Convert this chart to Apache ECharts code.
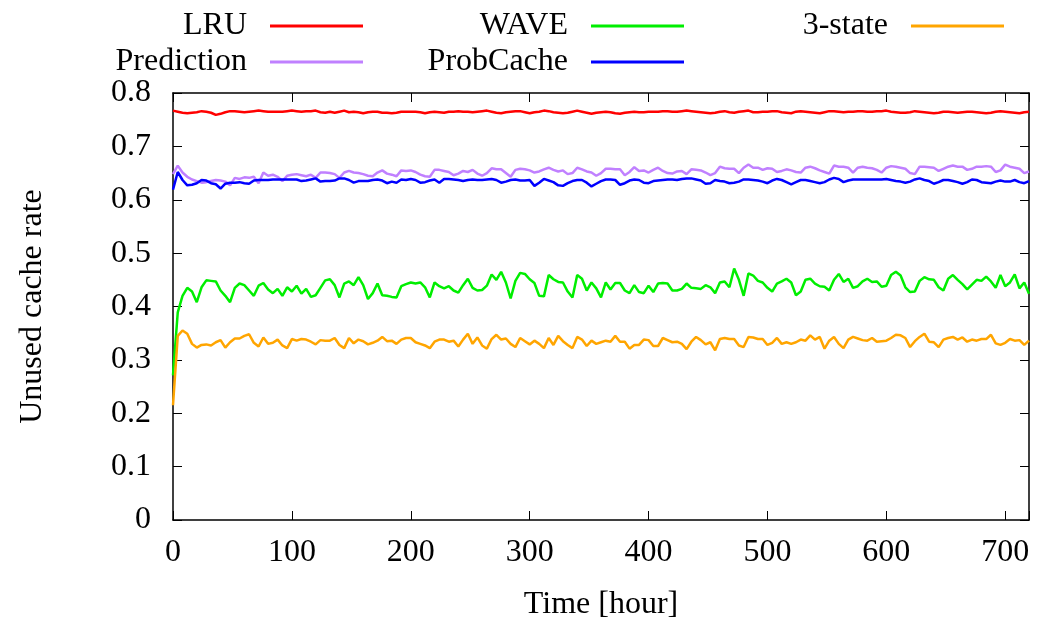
<!DOCTYPE html>
<html>
<head>
<meta charset="utf-8">
<script src="https://cdn.jsdelivr.net/npm/echarts@6/dist/echarts.min.js"></script>
<style>
html,body{margin:0;padding:0;background:#fff;}
#chart{width:1053px;height:626px;}
</style>
</head>
<body>
<div id="chart"></div>
<script>
// Time axis: one sample every 4 hours, 0..720
const HOUR_STEP = 4;
const HOUR_COUNT = 181;
const xTickLabels = ['0','100','200','300','400','500','600','700'];
const yTickLabels = ['0','0.1','0.2','0.3','0.4','0.5','0.6','0.7','0.8'];
const seriesNames = ['LRU','Prediction','WAVE','ProbCache','3-state'];

const lruA = [0.767,0.765,0.763,0.762,0.763,0.764,0.766,0.765,0.763,0.759,
0.761,0.764,0.766,0.766,0.765,0.764,0.765,0.766,0.767,0.766,
0.765,0.765,0.765,0.765,0.766,0.767,0.766,0.765,0.766,0.766,
0.767,0.764,0.763,0.765,0.763,0.765,0.767,0.764,0.765,0.764,
0.762,0.764,0.765,0.765,0.763,0.763,0.762,0.763,0.765,0.765,
0.765,0.765,0.764,0.762,0.764,0.765,0.764,0.763,0.765,0.765,
0.766];
const lruB = [0.765,0.765,0.764,0.765,0.766,0.767,0.765,0.763,0.762,0.764,
0.765,0.766,0.766,0.764,0.762,0.764,0.765,0.767,0.766,0.764,
0.763,0.762,0.763,0.765,0.767,0.765,0.763,0.761,0.763,0.764,
0.765,0.764,0.762,0.761,0.763,0.764,0.765,0.764,0.764,0.765,
0.765,0.765,0.766,0.766,0.765,0.765,0.766,0.767,0.766,0.765,
0.764,0.763,0.762,0.763,0.765,0.766,0.764,0.763,0.765,0.766,
0.767];
const lruC = [0.764,0.764,0.765,0.765,0.766,0.766,0.764,0.763,0.762,0.765,
0.766,0.765,0.764,0.763,0.762,0.764,0.766,0.766,0.765,0.764,
0.765,0.765,0.766,0.766,0.765,0.765,0.766,0.766,0.767,0.765,
0.764,0.763,0.763,0.764,0.766,0.765,0.764,0.763,0.762,0.763,
0.765,0.765,0.764,0.763,0.764,0.765,0.765,0.764,0.763,0.762,
0.763,0.765,0.766,0.765,0.764,0.763,0.762,0.764,0.765];

const predA = [0.648,0.664,0.651,0.643,0.638,0.635,0.632,0.633,0.635,0.637,
0.636,0.634,0.627,0.641,0.639,0.642,0.641,0.643,0.631,0.651,
0.645,0.647,0.643,0.635,0.645,0.647,0.648,0.646,0.644,0.647,
0.641,0.651,0.651,0.650,0.648,0.641,0.651,0.654,0.651,0.650,
0.648,0.645,0.644,0.651,0.655,0.649,0.647,0.644,0.655,0.654,
0.655,0.652,0.647,0.644,0.643,0.656,0.656,0.654,0.652,0.646,
0.649];
const predB = [0.654,0.652,0.656,0.649,0.645,0.650,0.659,0.657,0.657,0.650,
0.643,0.656,0.658,0.657,0.655,0.651,0.653,0.657,0.660,0.656,
0.653,0.655,0.648,0.650,0.660,0.657,0.653,0.651,0.645,0.650,
0.658,0.658,0.657,0.657,0.646,0.652,0.661,0.654,0.655,0.651,
0.656,0.660,0.654,0.650,0.649,0.653,0.654,0.648,0.657,0.656,
0.655,0.651,0.646,0.650,0.662,0.659,0.658,0.658,0.650,0.660,
0.666];
const predC = [0.660,0.660,0.656,0.659,0.658,0.652,0.654,0.657,0.655,0.652,
0.651,0.660,0.662,0.659,0.655,0.652,0.649,0.664,0.662,0.662,
0.660,0.651,0.660,0.662,0.660,0.659,0.656,0.651,0.660,0.663,
0.662,0.660,0.658,0.650,0.648,0.662,0.662,0.661,0.660,0.654,
0.658,0.662,0.664,0.662,0.662,0.656,0.658,0.662,0.662,0.663,
0.662,0.652,0.655,0.666,0.662,0.660,0.658,0.650,0.653];

const waveA = [0.271,0.389,0.420,0.435,0.428,0.408,0.436,0.449,0.448,0.447,
0.430,0.420,0.408,0.435,0.443,0.440,0.430,0.420,0.439,0.444,
0.432,0.425,0.433,0.420,0.436,0.428,0.439,0.424,0.433,0.418,
0.421,0.435,0.449,0.451,0.440,0.417,0.443,0.447,0.440,0.455,
0.440,0.414,0.425,0.443,0.421,0.420,0.418,0.417,0.438,0.442,
0.445,0.443,0.445,0.436,0.417,0.445,0.438,0.434,0.438,0.430,
0.426];
const waveB = [0.440,0.452,0.435,0.430,0.431,0.439,0.460,0.450,0.465,0.445,
0.415,0.448,0.463,0.461,0.451,0.444,0.420,0.419,0.459,0.451,
0.446,0.445,0.428,0.417,0.459,0.452,0.430,0.445,0.434,0.417,
0.445,0.432,0.444,0.444,0.430,0.425,0.440,0.427,0.425,0.439,
0.427,0.443,0.444,0.443,0.430,0.430,0.433,0.443,0.435,0.434,
0.433,0.440,0.436,0.425,0.445,0.447,0.436,0.471,0.450,0.420,
0.462];
const waveC = [0.458,0.448,0.445,0.435,0.428,0.443,0.447,0.452,0.445,0.421,
0.428,0.450,0.452,0.443,0.438,0.437,0.430,0.450,0.461,0.446,
0.452,0.435,0.438,0.447,0.452,0.446,0.447,0.437,0.439,0.459,
0.465,0.458,0.436,0.427,0.428,0.448,0.455,0.451,0.450,0.436,
0.430,0.452,0.459,0.450,0.442,0.432,0.441,0.450,0.448,0.456,
0.447,0.435,0.459,0.438,0.445,0.460,0.434,0.445,0.424];

const probA = [0.619,0.652,0.637,0.627,0.628,0.631,0.637,0.636,0.631,0.629,
0.621,0.630,0.632,0.632,0.633,0.631,0.630,0.636,0.637,0.637,
0.637,0.638,0.638,0.638,0.638,0.638,0.638,0.635,0.636,0.638,
0.640,0.634,0.635,0.635,0.636,0.640,0.640,0.637,0.632,0.635,
0.635,0.635,0.637,0.638,0.636,0.631,0.634,0.632,0.638,0.637,
0.639,0.637,0.632,0.633,0.636,0.638,0.632,0.639,0.639,0.638,
0.637];
const probB = [0.635,0.637,0.638,0.637,0.637,0.638,0.639,0.637,0.632,0.634,
0.637,0.638,0.636,0.636,0.637,0.626,0.632,0.639,0.636,0.633,
0.627,0.626,0.631,0.635,0.637,0.637,0.632,0.625,0.630,0.635,
0.638,0.638,0.637,0.628,0.631,0.636,0.638,0.637,0.632,0.631,
0.635,0.636,0.637,0.638,0.638,0.637,0.639,0.640,0.640,0.638,
0.636,0.630,0.631,0.637,0.635,0.634,0.631,0.632,0.634,0.638,
0.638];
const probC = [0.637,0.636,0.634,0.631,0.636,0.639,0.637,0.633,0.629,0.633,
0.637,0.637,0.635,0.633,0.631,0.633,0.638,0.641,0.639,0.633,
0.636,0.638,0.638,0.638,0.638,0.638,0.638,0.638,0.639,0.637,
0.635,0.634,0.632,0.634,0.638,0.640,0.637,0.635,0.630,0.633,
0.637,0.637,0.635,0.633,0.630,0.633,0.638,0.637,0.633,0.632,
0.631,0.634,0.636,0.634,0.634,0.637,0.633,0.631,0.635];

const stateA = [0.215,0.345,0.355,0.349,0.330,0.323,0.328,0.329,0.327,0.333,
0.337,0.323,0.333,0.340,0.340,0.345,0.348,0.332,0.325,0.342,
0.330,0.332,0.338,0.327,0.322,0.339,0.336,0.339,0.338,0.334,
0.329,0.337,0.336,0.336,0.341,0.328,0.322,0.341,0.331,0.338,
0.335,0.329,0.332,0.336,0.343,0.335,0.336,0.330,0.338,0.341,
0.341,0.333,0.330,0.327,0.322,0.334,0.338,0.338,0.334,0.336,
0.325];
const stateB = [0.338,0.349,0.330,0.342,0.327,0.321,0.339,0.347,0.338,0.340,
0.330,0.324,0.341,0.335,0.329,0.336,0.330,0.322,0.341,0.328,
0.345,0.335,0.328,0.322,0.343,0.338,0.326,0.336,0.330,0.333,
0.336,0.334,0.345,0.334,0.334,0.321,0.328,0.328,0.338,0.337,
0.326,0.326,0.341,0.337,0.333,0.334,0.330,0.320,0.334,0.343,
0.337,0.329,0.333,0.318,0.339,0.341,0.339,0.339,0.327,0.324,
0.343];
const stateC = [0.342,0.339,0.339,0.328,0.332,0.341,0.330,0.333,0.330,0.333,
0.338,0.336,0.346,0.338,0.343,0.321,0.336,0.343,0.330,0.322,
0.338,0.343,0.340,0.337,0.336,0.341,0.334,0.335,0.336,0.341,
0.347,0.346,0.341,0.324,0.335,0.343,0.349,0.334,0.333,0.324,
0.338,0.341,0.343,0.338,0.342,0.334,0.338,0.336,0.339,0.339,
0.347,0.331,0.328,0.332,0.339,0.336,0.337,0.328,0.336];

const hours = [];
for (let i = 0; i < HOUR_COUNT; i++) hours.push(i * HOUR_STEP);

const lru = lruA.concat(lruB, lruC);
const prediction = predA.concat(predB, predC);
const wave = waveA.concat(waveB, waveC);
const probCache = probA.concat(probB, probC);
const threeState = stateA.concat(stateB, stateC);

const valuesByName = {
  'LRU': lru, 'Prediction': prediction, 'WAVE': wave,
  'ProbCache': probCache, '3-state': threeState
};
const colors = {
  'LRU': '#ff0000', 'Prediction': '#c080ff', 'WAVE': '#00ee00',
  'ProbCache': '#0000ff', '3-state': '#ffa500'
};

const FONT = '"Liberation Serif", "Times New Roman", serif';
const FS = 32;

function pairs(vals) { return vals.map((v, i) => [hours[i], v]); }

const legendPos = {
  'LRU': { right: 690, top: 10 },
  'WAVE': { right: 369, top: 10 },
  '3-state': { right: 49, top: 10 },
  'Prediction': { right: 690, top: 46 },
  'ProbCache': { right: 369, top: 46 }
};

const legends = seriesNames.map(n => Object.assign({
  data: [n],
  orient: 'horizontal',
  align: 'right',
  padding: 0,
  icon: 'rect',
  itemWidth: 93,
  itemHeight: 3,
  selectedMode: false,
  textStyle: { fontFamily: FONT, fontSize: FS, color: '#000', padding: [0, 18, 0, 0] }
}, legendPos[n]));

const axisLineStyle = { color: '#000', width: 1.5 };

const option = {
  backgroundColor: '#fff',
  animation: false,
  legend: legends,
  grid: { left: 173, right: 24, top: 93, bottom: 104, containLabel: false },
  xAxis: [{
    type: 'value', min: 0, max: 720, interval: 100, position: 'bottom',
    name: 'Time [hour]', nameLocation: 'middle', nameGap: 69,
    nameTextStyle: { fontFamily: FONT, fontSize: FS, color: '#000' },
    axisLine: { show: true, onZero: false, lineStyle: axisLineStyle },
    axisTick: { show: true, inside: true, length: 9, lineStyle: { color: '#000', width: 1 } },
    axisLabel: {
      fontFamily: FONT, fontSize: FS, color: '#000', margin: 17,
      formatter: v => (xTickLabels.indexOf(String(v)) >= 0 ? String(v) : '')
    },
    splitLine: { show: false }
  }, {
    type: 'value', min: 0, max: 720, interval: 100, position: 'top',
    axisLine: { show: true, onZero: false, lineStyle: axisLineStyle },
    axisTick: { show: true, inside: true, length: 9, lineStyle: { color: '#000', width: 1 } },
    axisLabel: { show: false },
    splitLine: { show: false }
  }],
  yAxis: [{
    type: 'value', min: 0, max: 0.8, interval: 0.1, position: 'left',
    name: 'Unused cache rate', nameLocation: 'middle', nameGap: 124, nameRotate: 90,
    nameTextStyle: { fontFamily: FONT, fontSize: FS, color: '#000' },
    axisLine: { show: true, onZero: false, lineStyle: axisLineStyle },
    axisTick: { show: true, inside: true, length: 9, lineStyle: { color: '#000', width: 1 } },
    axisLabel: {
      fontFamily: FONT, fontSize: FS, color: '#000', margin: 22,
      formatter: v => yTickLabels[Math.round(v * 10)]
    },
    splitLine: { show: false }
  }, {
    type: 'value', min: 0, max: 0.8, interval: 0.1, position: 'right',
    axisLine: { show: true, onZero: false, lineStyle: axisLineStyle },
    axisTick: { show: true, inside: true, length: 9, lineStyle: { color: '#000', width: 1 } },
    axisLabel: { show: false },
    splitLine: { show: false }
  }],
  series: seriesNames.map(n => ({
    name: n,
    type: 'line',
    xAxisIndex: 0,
    yAxisIndex: 0,
    data: pairs(valuesByName[n]),
    showSymbol: false,
    symbol: 'none',
    color: colors[n],
    lineStyle: { color: colors[n], width: 2.5 },
    z: 2
  }))
};

const chart = echarts.init(document.getElementById('chart'), null, { renderer: 'canvas' });
chart.setOption(option);
</script>
</body>
</html>
